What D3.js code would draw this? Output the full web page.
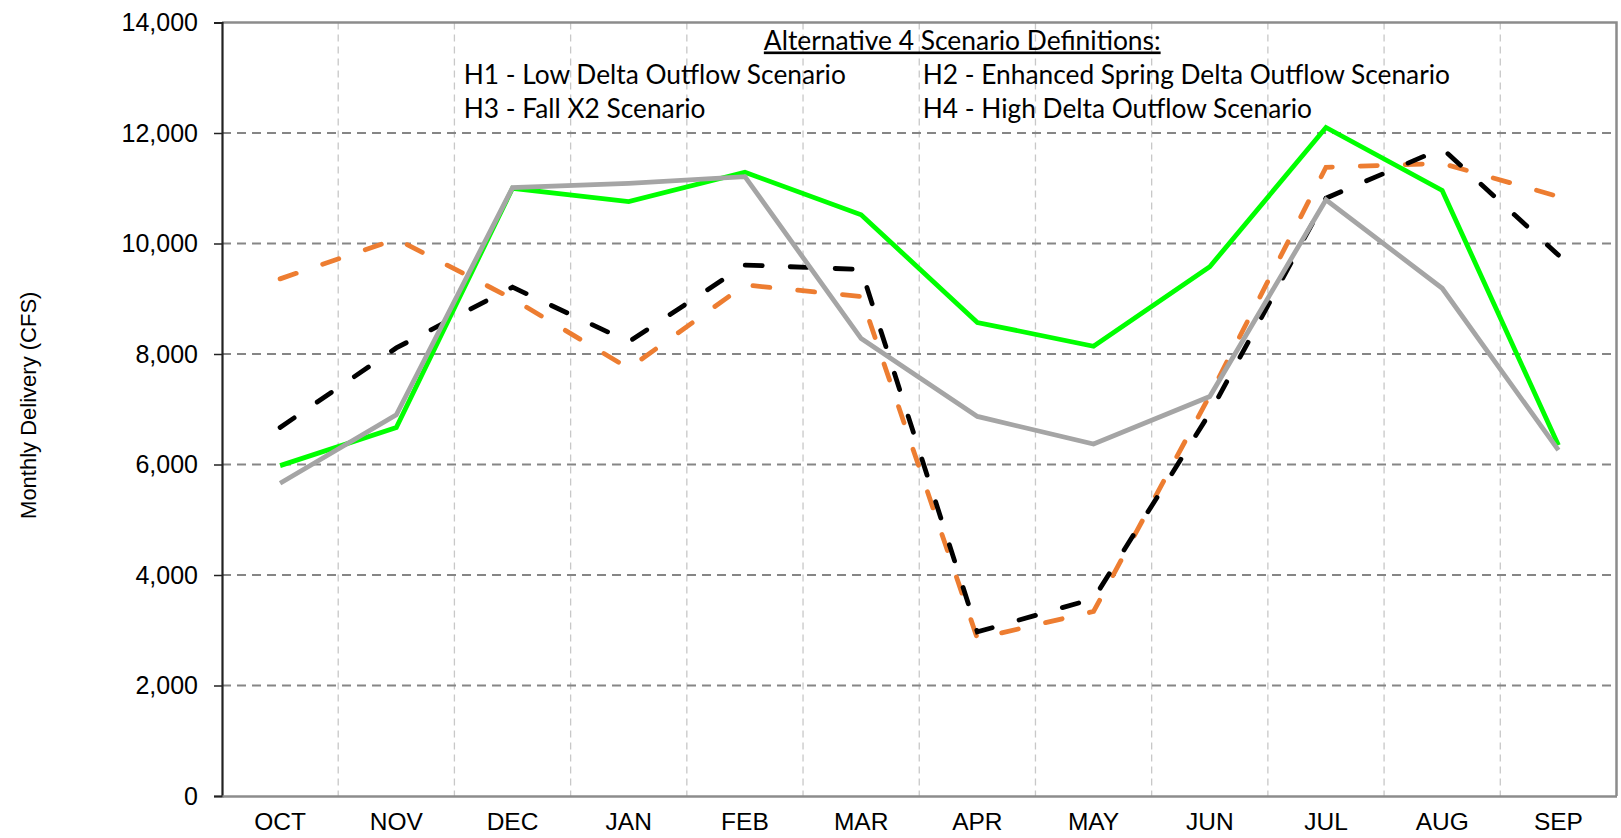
<!DOCTYPE html>
<html>
<head>
<meta charset="utf-8">
<script src="https://cdn.jsdelivr.net/npm/d3@7"></script>
<style>
  body { margin: 0; background: #fff; }
  svg { display: block; }
  .axis-label { font-family: "Liberation Sans", Arial, sans-serif; fill: #000; }
  .legend-text { font-family: Lato, "Open Sans", sans-serif; fill: #000; }
</style>
</head>
<body>
<svg id="chart" width="1621" height="838"></svg>
<script>
const width = 1621;
const height = 838;

let margin = {top: 22.5, right: 4.5, bottom: 42, left: 222};

// Months of the water year
const months = ["OCT","NOV","DEC","JAN","FEB","MAR","APR","MAY","JUN","JUL","AUG","SEP"];

// Monthly delivery (CFS) for each line
const blackDashed  = [6670, 8110, 9210, 8220, 9610, 9530, 2970, 3570, 6930, 10820, 11720, 9790];
const orangeDashed = [9360, 10080, 9000, 7740, 9250, 9040, 2850, 3340, 7250, 11380, 11450, 10850];
const greenSolid   = [5980, 6670, 11000, 10760, 11290, 10520, 8570, 8140, 9580, 12100, 10960, 6350];
const graySolid    = [5660, 6900, 11010, 11090, 11210, 8280, 6870, 6370, 7230, 10790, 9190, 6260];

const yTicks = [0, 2000, 4000, 6000, 8000, 10000, 12000, 14000];

const legendTitle = "Alternative 4 Scenario Definitions:";
const legendRows = [
  ["H1 - Low Delta Outflow Scenario", "H2 - Enhanced Spring Delta Outflow Scenario"],
  ["H3 - Fall X2 Scenario", "H4 - High Delta Outflow Scenario"]
];

const svg = d3.select("#chart");

const chartWidth = width - margin.left - margin.right;
const chartHeight = height - margin.top - margin.bottom;

const g = svg.append("g")
    .attr("transform", `translate(${margin.left},${margin.top})`);

const x = d3.scaleBand()
    .domain(months)
    .range([0, chartWidth]);

const y = d3.scaleLinear()
    .domain([0, 14000])
    .range([chartHeight, 0]);

const cx = m => x(m) + x.bandwidth() / 2;

// Vertical grid between months
g.selectAll(".vgrid")
    .data(months.slice(1))
    .enter()
    .append("line")
    .attr("class", "vgrid")
    .attr("x1", d => x(d))
    .attr("x2", d => x(d))
    .attr("y1", 0)
    .attr("y2", chartHeight)
    .attr("stroke", "#c8c8c8")
    .attr("stroke-width", 1.3)
    .attr("stroke-dasharray", "7,5");

// Horizontal grid
g.selectAll(".hgrid")
    .data(yTicks.slice(1, -1))
    .enter()
    .append("line")
    .attr("class", "hgrid")
    .attr("x1", 0)
    .attr("x2", chartWidth)
    .attr("y1", d => y(d))
    .attr("y2", d => y(d))
    .attr("stroke", "#868686")
    .attr("stroke-width", 2)
    .attr("stroke-dasharray", "9,6");

// Plot frame (top and right edges)
g.append("path")
    .attr("d", `M0,${y(14000)}H${chartWidth}V${y(0)}`)
    .attr("fill", "none")
    .attr("stroke", "#8c8c8c")
    .attr("stroke-width", 2.5);

// Legend text box
const legend = g.append("g").attr("class", "legend-text");

legend.append("text")
    .attr("x", x("APR") + x.bandwidth() * 0.37)
    .attr("y", 27)
    .attr("text-anchor", "middle")
    .style("font-size", "26.4px")
    .style("text-decoration", "underline")
    .text(legendTitle);

legendRows.forEach((row, i) => {
  legend.append("text")
      .attr("x", x("NOV") + x.bandwidth() * 1.08)
      .attr("y", 61 + i * 34)
      .style("font-size", "26.3px")
      .text(row[0]);
  legend.append("text")
      .attr("x", x("APR") + x.bandwidth() * 0.03)
      .attr("y", 61 + i * 34)
      .style("font-size", "26.3px")
      .text(row[1]);
});

// Lines
const line = d3.line()
    .x((v, i) => cx(months[i]))
    .y(v => y(v));

const series = [
  {values: orangeDashed, color: "#ed7d31", dash: "17,28", cap: "round"},
  {values: blackDashed, color: "#000000", dash: "17,28", cap: "round"},
  {values: greenSolid, color: "#00ff00", dash: null, cap: "butt"},
  {values: graySolid, color: "#a5a5a5", dash: null, cap: "butt"}
];

g.selectAll(".series")
    .data(series)
    .enter()
    .append("path")
    .attr("class", "series")
    .attr("d", d => line(d.values))
    .attr("fill", "none")
    .attr("stroke", d => d.color)
    .attr("stroke-width", 4.8)
    .attr("stroke-linecap", d => d.cap)
    .attr("stroke-linejoin", "miter")
    .attr("stroke-dasharray", d => d.dash);

// Axes
const yAxis = d3.axisLeft(y)
    .tickValues(yTicks)
    .tickFormat(d3.format(","))
    .tickSize(8)
    .tickPadding(16);

const yAxisG = g.append("g").call(yAxis);
yAxisG.select(".domain").attr("stroke", "#222").attr("stroke-width", 2.2);
yAxisG.selectAll(".tick line").attr("stroke", "#222").attr("stroke-width", 1.5);
yAxisG.selectAll(".tick text")
    .attr("class", "axis-label")
    .style("font-size", "25px")
    .attr("fill", "#000");

const xAxis = d3.axisBottom(x).tickSize(0).tickPadding(17);

const xAxisG = g.append("g")
    .attr("transform", `translate(0,${chartHeight})`)
    .call(xAxis);
xAxisG.select(".domain").attr("stroke", "#8c8c8c").attr("stroke-width", 2.5);
xAxisG.selectAll(".tick text")
    .attr("class", "axis-label")
    .style("font-size", "24.5px")
    .attr("fill", "#000");

svg.append("text")
    .attr("class", "axis-label")
    .attr("transform", `translate(36,${margin.top + chartHeight / 2 - 4}) rotate(-90)`)
    .attr("text-anchor", "middle")
    .style("font-size", "22px")
    .text("Monthly Delivery (CFS)");
</script>
</body>
</html>
